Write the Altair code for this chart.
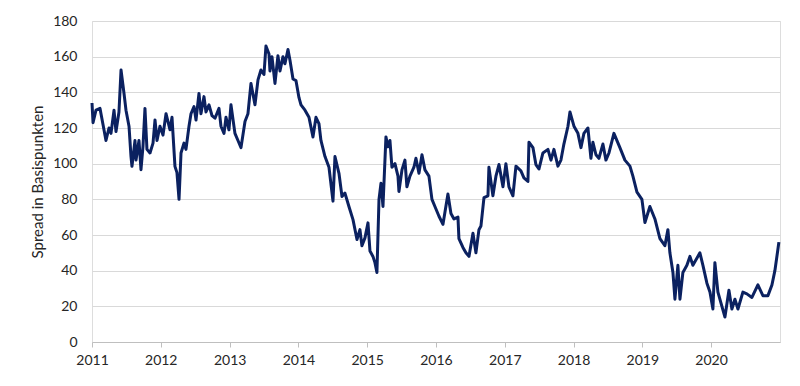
import altair as alt
import pandas as pd

# decimal year positions and spread values (bp)
years = [
    2011.000, 2011.015, 2011.058, 2011.116, 2011.160, 2011.203, 2011.247, 2011.276, 2011.320, 2011.349,
    2011.392, 2011.422, 2011.465, 2011.494, 2011.538, 2011.567, 2011.581, 2011.625, 2011.640, 2011.683,
    2011.712, 2011.741, 2011.770, 2011.799, 2011.843, 2011.887, 2011.916, 2011.945, 2011.988, 2012.032,
    2012.076, 2012.134, 2012.163, 2012.206, 2012.235, 2012.265, 2012.294, 2012.337, 2012.366, 2012.410,
    2012.439, 2012.483, 2012.512, 2012.555, 2012.584, 2012.628, 2012.657, 2012.701, 2012.744, 2012.788,
    2012.846, 2012.875, 2012.919, 2012.948, 2012.991, 2013.020, 2013.078, 2013.122, 2013.166, 2013.224,
    2013.267, 2013.311, 2013.369, 2013.413, 2013.456, 2013.500, 2013.529, 2013.573, 2013.587, 2013.616,
    2013.660, 2013.703, 2013.733, 2013.776, 2013.805, 2013.849, 2013.878, 2013.922, 2013.965, 2014.009,
    2014.038, 2014.096, 2014.154, 2014.212, 2014.256, 2014.299, 2014.328, 2014.387, 2014.445, 2014.503,
    2014.532, 2014.590, 2014.634, 2014.677, 2014.735, 2014.794, 2014.852, 2014.895, 2014.924, 2014.968,
    2015.012, 2015.041, 2015.084, 2015.113, 2015.142, 2015.172, 2015.201, 2015.230, 2015.273, 2015.302,
    2015.331, 2015.360, 2015.404, 2015.448, 2015.462, 2015.506, 2015.549, 2015.578, 2015.622, 2015.680,
    2015.709, 2015.753, 2015.797, 2015.840, 2015.898, 2015.942, 2015.985, 2016.044, 2016.102, 2016.174,
    2016.218, 2016.262, 2016.320, 2016.334, 2016.392, 2016.436, 2016.480, 2016.538, 2016.581, 2016.625,
    2016.654, 2016.698, 2016.756, 2016.770, 2016.828, 2016.872, 2016.916, 2016.974, 2017.017, 2017.061,
    2017.119, 2017.163, 2017.235, 2017.279, 2017.337, 2017.352, 2017.410, 2017.453, 2017.497, 2017.555,
    2017.628, 2017.672, 2017.715, 2017.773, 2017.817, 2017.860, 2017.919, 2017.948, 2018.006, 2018.064,
    2018.108, 2018.151, 2018.209, 2018.253, 2018.282, 2018.326, 2018.369, 2018.427, 2018.471, 2018.515,
    2018.587, 2018.674, 2018.747, 2018.820, 2018.863, 2018.922, 2018.994, 2019.038, 2019.110, 2019.183,
    2019.256, 2019.328, 2019.372, 2019.401, 2019.445, 2019.474, 2019.517, 2019.547, 2019.590, 2019.648,
    2019.692, 2019.735, 2019.837, 2019.881, 2019.939, 2019.983, 2020.026, 2020.055, 2020.099, 2020.157,
    2020.201, 2020.259, 2020.302, 2020.346, 2020.390, 2020.462, 2020.520, 2020.593, 2020.680, 2020.753,
    2020.826, 2020.884, 2020.927, 2020.971, 2020.985,
]
spread = [
    134, 123, 130, 131, 122, 113, 120, 117, 130, 118,
    129, 152.5, 139.5, 130, 121, 104, 98.5, 113, 102, 113,
    96.6, 109.6, 131, 108, 106, 111.5, 124.5, 113, 121, 116,
    128, 119, 126, 98.5, 95, 80, 106, 111.5, 108, 121,
    128, 132, 124.5, 139.4, 128, 137.6, 129, 133, 127, 125.5,
    131, 121, 117, 126, 119, 133, 117, 113, 109, 123.6,
    128, 145, 133, 147, 152.5, 150, 166, 161.5, 152, 160,
    145, 160.5, 152, 160, 156, 164, 158, 147.5, 146.6, 137,
    133, 130, 126, 115, 126, 122.5, 113, 104, 98, 79,
    104, 94.6, 81.6, 83.5, 76, 68.6, 57.5, 63, 54, 58.4,
    66.8, 51, 48, 44.5, 39, 80, 89, 76, 115, 109.5,
    113, 98, 100, 93, 84.4, 96.5, 102, 87, 93, 98,
    103, 94.6, 105, 96.5, 93, 80, 76, 70.5, 66, 83,
    72, 69, 70, 58, 53, 50, 48, 61, 50, 63,
    65, 81, 82, 98, 82, 93, 99.5, 87, 100, 87,
    82, 98.6, 96, 92, 90, 112, 109, 99.5, 97, 106,
    108, 102, 108, 98.6, 102, 111, 121, 129, 121, 117,
    109, 117, 120, 103, 112, 105, 103, 111, 102, 106,
    117, 109, 102, 98.6, 93, 84, 80, 67, 76, 69,
    58, 54, 63, 50, 39, 24, 43, 24, 39, 43,
    48, 43, 50, 43, 33, 28, 18.5, 44.5, 28, 20,
    14, 29, 18.5, 24, 18.5, 28, 27, 25, 32, 26,
    26, 32, 40, 52, 56,
]
year_ticks = [2011, 2012, 2013, 2014, 2015, 2016, 2017, 2018, 2019, 2020]
y_ticks = [0, 20, 40, 60, 80, 100, 120, 140, 160, 180]

start = pd.Timestamp("2011-01-01")
dates = [start + pd.to_timedelta((y - 2011) * 365.25, unit="D") for y in years]
df = pd.DataFrame({"date": [d.strftime("%Y-%m-%dT%H:%M:%S") for d in dates], "spread": spread})

font = "Lato"
tick_vals = [alt.DateTime(year=y, month=1, date=1) for y in year_ticks]

chart = alt.Chart(df).mark_line(color="#0b2160", strokeWidth=3, strokeJoin="round").encode(
    x=alt.X(
        "date:T",
        scale=alt.Scale(domain=[alt.DateTime(year=2011, month=1, date=1),
                                alt.DateTime(year=2021, month=1, date=1)]),
        axis=alt.Axis(
            title=None, values=tick_vals, format="%Y", grid=False,
            domainColor="#bfbfbf", tickColor="#bfbfbf", tickSize=5,
            labelPadding=6, labelFontSize=14, labelFont=font, labelColor="#262626",
            labelFlush=False, labelOverlap=False,
        ),
    ),
    y=alt.Y(
        "spread:Q",
        scale=alt.Scale(domain=[0, 180], nice=False),
        axis=alt.Axis(
            title="Spread in Basispunkten", values=y_ticks, grid=True,
            gridColor="#d9d9d9", domain=False, ticks=False,
            labelPadding=15, labelFontSize=14, labelFont=font, labelColor="#262626",
            titleFont=font, titleFontSize=15, titleFontWeight="normal", titleColor="#262626",
            titlePadding=7,
        ),
    ),
).properties(
    width=688, height=321,
    padding={"left": 84, "top": 13, "right": 10, "bottom": 36},
    autosize=alt.AutoSizeParams(type="none"),
).configure_view(stroke=None).configure(background="white")

chart.save("out.html", embed_options={"renderer": "svg", "actions": False})
